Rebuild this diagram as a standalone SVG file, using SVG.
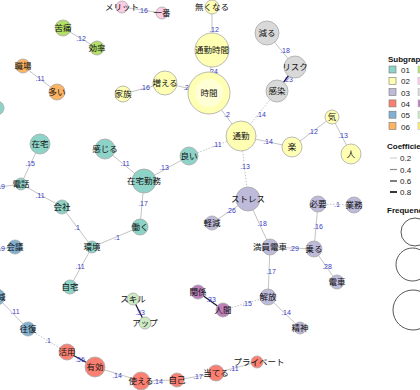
<svg xmlns="http://www.w3.org/2000/svg" width="420" height="390" viewBox="0 0 420 390">
<style>
.e{stroke:#c4c4c4;stroke-width:1;fill:none}
.d{stroke:#c4c4c4;stroke-width:1;stroke-dasharray:1.5 1.5;fill:none}
.k{stroke:#1a1a3a;stroke-width:1.3;fill:none}
.el{font-family:"Liberation Sans",Arial,sans-serif;font-size:7px;fill:#3b3bc4;text-anchor:middle}
.n circle{stroke:#a8a8a8;stroke-width:0.8}
.n circle.in{stroke:none;fill:#ffffd6}
.n text{font-family:"Noto Sans CJK JP","Noto Sans",sans-serif;font-size:8.5px;fill:#111;text-anchor:middle}
.c01{fill:#8DD3C7}.c02{fill:#FFFFB3}.c03{fill:#BEBADA}.c04{fill:#FB8072}.c05{fill:#80B1D3}.c06{fill:#FDB462}
.c07{fill:#B3DE69}.c08{fill:#FCCDE5}.c09{fill:#D9D9D9}.c10{fill:#BC80BD}.c11{fill:#CCEBC5}.c12{fill:#FFED6F}
.lg{font-family:"Liberation Sans",Arial,sans-serif;font-size:8px;fill:#222}
.lt{font-family:"Liberation Sans",Arial,sans-serif;font-size:8px;font-weight:bold;fill:#111}
</style>
<rect width="420" height="390" fill="#fff"/>
<g id="edges">
<line class="e" x1="122" y1="7" x2="162" y2="13"/>
<line class="e" x1="212" y1="7" x2="212" y2="50"/>
<line class="e" x1="212" y1="50" x2="209" y2="93"/>
<line class="e" x1="165" y1="83" x2="209" y2="93"/>
<line class="e" x1="123" y1="94" x2="165" y2="83"/>
<line class="e" x1="209" y1="93" x2="241" y2="136"/>
<line class="e" x1="267" y1="33" x2="295" y2="67"/>
<line class="k" x1="295" y1="67" x2="277" y2="91"/>
<line class="d" x1="277" y1="91" x2="241" y2="136"/>
<line class="e" x1="332" y1="117" x2="292" y2="147"/>
<line class="e" x1="332" y1="117" x2="351" y2="154"/>
<line class="e" x1="241" y1="136" x2="292" y2="147"/>
<line class="e" x1="63" y1="28" x2="97" y2="48"/>
<line class="e" x1="23" y1="66" x2="57" y2="92"/>
<line class="e" x1="40" y1="144" x2="21" y2="184"/>
<line class="e" x1="0" y1="187" x2="21" y2="184"/>
<line class="e" x1="21" y1="184" x2="62" y2="207"/>
<line class="e" x1="62" y1="207" x2="92" y2="247"/>
<line class="e" x1="92" y1="247" x2="140" y2="227"/>
<line class="e" x1="144" y1="181" x2="140" y2="227"/>
<line class="e" x1="105" y1="149" x2="144" y2="181"/>
<line class="e" x1="144" y1="181" x2="189" y2="156"/>
<line class="d" x1="189" y1="156" x2="241" y2="136"/>
<line class="e" x1="92" y1="247" x2="70" y2="287"/>
<line class="e" x1="0" y1="249" x2="15" y2="247"/>
<line class="e" x1="-3" y1="297" x2="28" y2="329"/>
<line class="d" x1="28" y1="329" x2="67" y2="352"/>
<line class="k" x1="67" y1="352" x2="95" y2="367"/>
<line class="e" x1="95" y1="367" x2="141" y2="381"/>
<line class="e" x1="141" y1="381" x2="177" y2="380"/>
<line class="e" x1="177" y1="380" x2="216" y2="373"/>
<line class="e" x1="216" y1="373" x2="257" y2="362"/>
<line class="k" x1="133" y1="299" x2="145" y2="323"/>
<line class="k" x1="198" y1="292" x2="223" y2="310"/>
<line class="d" x1="223" y1="310" x2="268" y2="297"/>
<line class="e" x1="270" y1="247" x2="268" y2="297"/>
<line class="e" x1="268" y1="297" x2="300" y2="328"/>
<line class="d" x1="241" y1="136" x2="248" y2="199"/>
<line class="e" x1="248" y1="199" x2="270" y2="247"/>
<line class="e" x1="212" y1="223" x2="248" y2="199"/>
<line class="e" x1="270" y1="247" x2="314" y2="249"/>
<line class="e" x1="318" y1="204" x2="314" y2="249"/>
<line class="d" x1="318" y1="204" x2="354" y2="205"/>
<line class="e" x1="314" y1="249" x2="337" y2="282"/>
<text class="el" x="143" y="13">.16</text>
<text class="el" x="214" y="32">.12</text>
<text class="el" x="213" y="74">.24</text>
<text class="el" x="188" y="90">.25</text>
<text class="el" x="145" y="90">.16</text>
<text class="el" x="227" y="117">.2</text>
<text class="el" x="285" y="53">.18</text>
<text class="el" x="288" y="82">.23</text>
<text class="el" x="261" y="117">.14</text>
<text class="el" x="313" y="134">.12</text>
<text class="el" x="343" y="138">.13</text>
<text class="el" x="268" y="144">.14</text>
<text class="el" x="81" y="41">.12</text>
<text class="el" x="40" y="81">.11</text>
<text class="el" x="30" y="166">.15</text>
<text class="el" x="5" y="189" style="text-anchor:end">.19</text>
<text class="el" x="40" y="198">.11</text>
<text class="el" x="77" y="230">.1</text>
<text class="el" x="117" y="240">.1</text>
<text class="el" x="143" y="206">.17</text>
<text class="el" x="125" y="166">.11</text>
<text class="el" x="164" y="170">.13</text>
<text class="el" x="217" y="147">.11</text>
<text class="el" x="80" y="269">.11</text>
<text class="el" x="5" y="251" style="text-anchor:end">.19</text>
<text class="el" x="15" y="314">.11</text>
<text class="el" x="48" y="343">.1</text>
<text class="el" x="80" y="362">.56</text>
<text class="el" x="117" y="378">.14</text>
<text class="el" x="158" y="384">.14</text>
<text class="el" x="198" y="379">.17</text>
<text class="el" x="234" y="371">.11</text>
<text class="el" x="140" y="315">.33</text>
<text class="el" x="211" y="302">.33</text>
<text class="el" x="247" y="306">.15</text>
<text class="el" x="271" y="274">.17</text>
<text class="el" x="286" y="315">.14</text>
<text class="el" x="245" y="169">.13</text>
<text class="el" x="262" y="226">.18</text>
<text class="el" x="231" y="213">.26</text>
<text class="el" x="294" y="251">.29</text>
<text class="el" x="318" y="229">.16</text>
<text class="el" x="337" y="207">.1</text>
<text class="el" x="327" y="269">.28</text>
</g>
<g id="n-merit" class="n"><circle class="c08" cx="122" cy="7" r="6"/><text x="122" y="10">メリット</text></g>
<g id="n-ichiban" class="n"><circle class="c08" cx="162" cy="13" r="6"/><text x="162" y="16">一番</text></g>
<g id="n-nakunaru" class="n"><circle class="c02" cx="212" cy="7" r="7"/><text x="212" y="10">無くなる</text></g>
<g id="n-tsukinjikan" class="n"><circle class="c02" cx="212" cy="50" r="17"/><text x="212" y="53">通勤時間</text></g>
<g id="n-jikan" class="n"><circle class="c02" cx="209" cy="93" r="21"/><circle class="in" cx="209" cy="93" r="14"/><text x="209" y="96">時間</text></g>
<g id="n-fueru" class="n"><circle class="c02" cx="165" cy="83" r="12"/><text x="165" y="86">増える</text></g>
<g id="n-kazoku" class="n"><circle class="c02" cx="123" cy="94" r="8"/><text x="123" y="97">家族</text></g>
<g id="n-tsukin" class="n"><circle class="c02" cx="241" cy="136" r="15"/><text x="241" y="139">通勤</text></g>
<g id="n-heru" class="n"><circle class="c09" cx="267" cy="33" r="12"/><text x="267" y="36">減る</text></g>
<g id="n-risk" class="n"><circle class="c09" cx="295" cy="67" r="11"/><text x="295" y="70">リスク</text></g>
<g id="n-kansen" class="n"><circle class="c09" cx="277" cy="91" r="11"/><text x="277" y="94">感染</text></g>
<g id="n-ki" class="n"><circle class="c02" cx="332" cy="117" r="7"/><text x="332" y="120">気</text></g>
<g id="n-raku" class="n"><circle class="c02" cx="292" cy="147" r="10"/><text x="292" y="150">楽</text></g>
<g id="n-hito" class="n"><circle class="c02" cx="351" cy="154" r="10"/><text x="351" y="157">人</text></g>
<g id="n-kutsu" class="n"><circle class="c07" cx="63" cy="28" r="8"/><text x="63" y="31">苦痛</text></g>
<g id="n-koritsu" class="n"><circle class="c07" cx="97" cy="48" r="7"/><text x="97" y="51">効率</text></g>
<g id="n-shokuba" class="n"><circle class="c06" cx="23" cy="66" r="7"/><text x="23" y="69">職場</text></g>
<g id="n-ooi" class="n"><circle class="c06" cx="57" cy="92" r="8"/><text x="57" y="95">多い</text></g>
<g id="n-edge1" class="n"><circle class="c01" cx="-3" cy="108" r="7"/></g>
<g id="n-zaitaku" class="n"><circle class="c01" cx="40" cy="144" r="10"/><text x="40" y="147">在宅</text></g>
<g id="n-denwa" class="n"><circle class="c01" cx="21" cy="184" r="6"/><text x="21" y="187">電話</text></g>
<g id="n-kaisha" class="n"><circle class="c01" cx="62" cy="207" r="7"/><text x="62" y="210">会社</text></g>
<g id="n-kankyo" class="n"><circle class="c01" cx="92" cy="247" r="6"/><text x="92" y="250">環境</text></g>
<g id="n-hataraku" class="n"><circle class="c01" cx="140" cy="227" r="8"/><text x="140" y="230">働く</text></g>
<g id="n-zaitakukinmu" class="n"><circle class="c01" cx="144" cy="181" r="12"/><text x="144" y="184">在宅勤務</text></g>
<g id="n-kanjiru" class="n"><circle class="c01" cx="105" cy="149" r="10"/><text x="105" y="152">感じる</text></g>
<g id="n-yoi" class="n"><circle class="c01" cx="189" cy="156" r="9"/><text x="189" y="159">良い</text></g>
<g id="n-jitaku" class="n"><circle class="c01" cx="70" cy="287" r="7"/><text x="70" y="290">自宅</text></g>
<g id="n-kaigi" class="n"><circle class="c05" cx="15" cy="247" r="7"/><text x="15" y="250">会議</text></g>
<g id="n-sakugen" class="n"><circle class="c05" cx="-3" cy="297" r="8"/><text x="-3" y="300">削減</text></g>
<g id="n-ofuku" class="n"><circle class="c05" cx="28" cy="329" r="7"/><text x="28" y="332">往復</text></g>
<g id="n-katsuyo" class="n"><circle class="c04" cx="67" cy="352" r="8"/><text x="67" y="355">活用</text></g>
<g id="n-yuko" class="n"><circle class="c04" cx="95" cy="367" r="10"/><text x="95" y="370">有効</text></g>
<g id="n-tsukaeru" class="n"><circle class="c04" cx="141" cy="381" r="9"/><text x="141" y="384">使える</text></g>
<g id="n-jiko" class="n"><circle class="c04" cx="177" cy="380" r="7"/><text x="177" y="383">自己</text></g>
<g id="n-ateru" class="n"><circle class="c04" cx="216" cy="373" r="8"/><text x="216" y="376">当てる</text></g>
<g id="n-private" class="n"><circle class="c04" cx="257" cy="362" r="6"/><text x="259" y="365">プライベート</text></g>
<g id="n-skill" class="n"><circle class="c11" cx="133" cy="299" r="6"/><text x="133" y="302">スキル</text></g>
<g id="n-up" class="n"><circle class="c11" cx="145" cy="323" r="6"/><text x="145" y="326">アップ</text></g>
<g id="n-kankei" class="n"><circle class="c10" cx="198" cy="292" r="7"/><text x="198" y="295">関係</text></g>
<g id="n-ningen" class="n"><circle class="c10" cx="223" cy="310" r="7"/><text x="223" y="313">人間</text></g>
<g id="n-kaiho" class="n"><circle class="c03" cx="268" cy="297" r="8"/><text x="268" y="300">解放</text></g>
<g id="n-manin" class="n"><circle class="c03" cx="270" cy="247" r="8"/><text x="270" y="250">満員電車</text></g>
<g id="n-seishin" class="n"><circle class="c03" cx="300" cy="328" r="6"/><text x="300" y="331">精神</text></g>
<g id="n-stress" class="n"><circle class="c03" cx="248" cy="199" r="12"/><text x="248" y="202">ストレス</text></g>
<g id="n-keigen" class="n"><circle class="c03" cx="212" cy="223" r="7"/><text x="212" y="226">軽減</text></g>
<g id="n-noru" class="n"><circle class="c03" cx="314" cy="249" r="8"/><text x="314" y="252">乗る</text></g>
<g id="n-hitsuyo" class="n"><circle class="c03" cx="318" cy="204" r="8"/><text x="318" y="207">必要</text></g>
<g id="n-gyomu" class="n"><circle class="c03" cx="354" cy="205" r="8"/><text x="354" y="208">業務</text></g>
<g id="n-densha" class="n"><circle class="c03" cx="337" cy="282" r="7"/><text x="337" y="285">電車</text></g>
<g id="legend">
<text class="lt" x="388" y="62">Subgraph</text>
<rect class="c01" x="389" y="66" width="7" height="7" stroke="#777" stroke-width="0.6"/><text class="lg" x="401" y="73">01</text>
<rect class="c02" x="389" y="77.3" width="7" height="7" stroke="#777" stroke-width="0.6"/><text class="lg" x="401" y="84.3">02</text>
<rect class="c03" x="389" y="88.6" width="7" height="7" stroke="#777" stroke-width="0.6"/><text class="lg" x="401" y="95.6">03</text>
<rect class="c04" x="389" y="99.9" width="7" height="7" stroke="#777" stroke-width="0.6"/><text class="lg" x="401" y="106.9">04</text>
<rect class="c05" x="389" y="111.2" width="7" height="7" stroke="#777" stroke-width="0.6"/><text class="lg" x="401" y="118.2">05</text>
<rect class="c06" x="389" y="122.5" width="7" height="7" stroke="#777" stroke-width="0.6"/><text class="lg" x="401" y="129.5">06</text>
<rect class="c07" x="418" y="66" width="7" height="7" stroke="#bbb" stroke-width="0.6"/>
<rect class="c08" x="418" y="77.3" width="7" height="7" stroke="#bbb" stroke-width="0.6"/>
<rect class="c09" x="418" y="88.6" width="7" height="7" stroke="#bbb" stroke-width="0.6"/>
<rect class="c10" x="418" y="99.9" width="7" height="7" stroke="#bbb" stroke-width="0.6"/>
<rect class="c11" x="418" y="111.2" width="7" height="7" stroke="#bbb" stroke-width="0.6"/>
<rect class="c12" x="418" y="122.5" width="7" height="7" stroke="#bbb" stroke-width="0.6"/>
<text class="lt" x="387" y="149">Coefficient</text>
<line x1="390" y1="158" x2="397" y2="158" stroke="#c8c8c8" stroke-width="1"/><text class="lg" x="400" y="161">0.2</text>
<line x1="390" y1="169.5" x2="397" y2="169.5" stroke="#8e8e8e" stroke-width="1.2"/><text class="lg" x="400" y="172.5">0.4</text>
<line x1="390" y1="181" x2="397" y2="181" stroke="#555" stroke-width="1.5"/><text class="lg" x="400" y="184">0.6</text>
<line x1="390" y1="192" x2="397" y2="192" stroke="#222" stroke-width="1.8"/><text class="lg" x="400" y="195">0.8</text>
<text class="lt" x="387" y="213">Frequency</text>
<circle cx="415" cy="232" r="14" fill="none" stroke="#444" stroke-width="0.9"/>
<circle cx="412.5" cy="264.5" r="16.5" fill="none" stroke="#444" stroke-width="0.9"/>
<circle cx="413" cy="310" r="20" fill="none" stroke="#444" stroke-width="0.9"/>
</g>
</svg>
